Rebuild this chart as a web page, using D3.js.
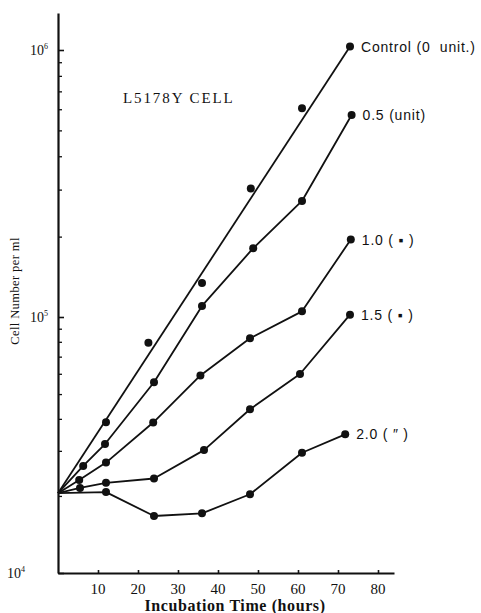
<!DOCTYPE html>
<html>
<head>
<meta charset="utf-8">
<script src="https://cdn.jsdelivr.net/npm/d3@7"></script>
<style>
  body { margin: 0; background: #fff; }
  svg { display: block; }
  .axis path, .axis line { stroke: #111; }
  text { fill: #111; }
</style>
</head>
<body>
<svg id="chart" width="481" height="613"></svg>
<script>
// incubation time (hours) and cell counts per ml
const controlTime = [12, 22.6, 36, 48.2, 61, 73];
const controlCells = [3.88e4, 7.94e4, 1.34e5, 3.03e5, 6.05e5, 1.03e6];
// the control line is a straight fit, not through the dots
const controlFitTime = [0, 73];
const controlFitCells = [2.05e4, 1.03e6];

const series = [
  { label: "0.5 (unit)",
    time:  [0, 6.3, 11.75, 24, 36, 48.8, 61, 73.4],
    cells: [2.05e4, 2.62e4, 3.19e4, 5.56e4, 1.10e5, 1.81e5, 2.72e5, 5.71e5] },
  { label: "1.0 ( \u25aa )",
    time:  [0, 5.3, 12, 23.8, 35.6, 48, 61, 73.2],
    cells: [2.05e4, 2.31e4, 2.70e4, 3.87e4, 5.91e4, 8.26e4, 1.05e5, 1.95e5] },
  { label: "1.5 ( \u25aa )",
    time:  [0, 5.5, 12, 24, 36.5, 48, 60.5, 73],
    cells: [2.05e4, 2.15e4, 2.25e4, 2.34e4, 3.02e4, 4.36e4, 5.99e4, 1.02e5] },
  { label: "2.0 ( \u2033 )",
    time:  [0, 12, 24, 36, 48, 61, 71.8],
    cells: [2.05e4, 2.07e4, 1.67e4, 1.71e4, 2.03e4, 2.95e4, 3.48e4] }
];
const controlLabel = "Control (0  unit.)";

const xTicks = [10, 20, 30, 40, 50, 60, 70, 80];
const yMajor = [1e4, 1e5, 1e6];
const yExp = [4, 5, 6];

const svg = d3.select("#chart");
const serif = "'Liberation Serif', 'DejaVu Serif', serif";

const x = d3.scaleLinear().domain([0, 84]).range([58, 394]);
// the printed decades are not quite the same height
const y = d3.scaleLog().domain([1e4, 1e5, 1e6, 1.376e6]).range([573, 317, 50, 13]);

// y axis: major and log minor ticks pointing inward
const yMinor = [];
for (let p = 4; p <= 6; p++) {
  for (let m = 2; m <= 9; m++) {
    const v = m * Math.pow(10, p);
    if (v < 1.376e6) yMinor.push(v);
  }
}

svg.append("g")
    .attr("class", "axis")
    .attr("transform", "translate(" + x(0) + ",0)")
    .call(d3.axisRight(y).tickValues(yMinor).tickSize(4).tickFormat(""))
    .call(g => g.select(".domain").remove())
    .selectAll("line").attr("stroke-width", 1.3);

svg.append("g")
    .attr("class", "axis")
    .attr("transform", "translate(" + x(0) + ",0)")
    .call(d3.axisRight(y).tickValues(yMajor).tickSize(6).tickSizeOuter(0).tickFormat(""))
    .call(g => g.select(".domain").attr("stroke-width", 2.2))
    .selectAll("line").attr("stroke-width", 1.6);

// y tick labels 10^n
const yLab = svg.append("g").selectAll("text")
    .data(yMajor)
    .enter()
    .append("text")
    .attr("x", (d, i) => i === 0 ? 25 : 48)
    .attr("y", d => y(d) + 5)
    .attr("text-anchor", "end")
    .attr("font-family", serif)
    .attr("font-size", 14);
yLab.append("tspan").text("10");
yLab.append("tspan")
    .attr("font-size", 8)
    .attr("dy", -6)
    .text((d, i) => yExp[i]);

// x axis with ticks pointing up
svg.append("g")
    .attr("class", "axis")
    .attr("transform", "translate(0," + y(1e4) + ")")
    .call(d3.axisTop(x).tickValues(xTicks).tickSize(3).tickSizeOuter(0).tickFormat(""))
    .call(g => g.select(".domain").attr("stroke-width", 2.2))
    .selectAll("line").attr("stroke-width", 1.6);

svg.append("g").selectAll("text")
    .data(xTicks)
    .enter()
    .append("text")
    .attr("x", d => x(d))
    .attr("y", y(1e4) + 21)
    .attr("text-anchor", "middle")
    .attr("font-family", serif)
    .attr("font-size", 15)
    .text(d => d);

// axis titles
svg.append("text")
    .attr("x", 235)
    .attr("y", 611)
    .attr("text-anchor", "middle")
    .attr("font-family", serif)
    .attr("font-weight", "bold")
    .attr("font-size", 16)
    .attr("letter-spacing", 0.6)
    .text("Incubation Time (hours)");

svg.append("text")
    .attr("transform", "translate(19,291) rotate(-90)")
    .attr("text-anchor", "middle")
    .attr("font-family", serif)
    .attr("font-size", 12.5)
    .attr("letter-spacing", 0.4)
    .text("Cell Number per ml");

svg.append("text")
    .attr("x", 123)
    .attr("y", 103)
    .attr("font-family", serif)
    .attr("font-size", 15)
    .attr("letter-spacing", 1.9)
    .text("L5178Y CELL");

// lines
const line = d3.line()
    .x(d => x(d[0]))
    .y(d => y(d[1]));

svg.append("path")
    .datum(d3.zip(controlFitTime, controlFitCells))
    .attr("fill", "none")
    .attr("stroke", "#111")
    .attr("stroke-width", 1.8)
    .attr("d", line);

svg.selectAll(".series")
    .data(series)
    .enter()
    .append("path")
    .attr("fill", "none")
    .attr("stroke", "#111")
    .attr("stroke-width", 1.8)
    .attr("stroke-linejoin", "round")
    .attr("d", s => line(d3.zip(s.time, s.cells)));

// dots
const dots = [{ time: controlTime, cells: controlCells }].concat(series);
dots.forEach(s => {
  svg.append("g").selectAll("circle")
      .data(d3.zip(s.time, s.cells).filter(d => d[0] > 0))
      .enter()
      .append("circle")
      .attr("cx", d => x(d[0]))
      .attr("cy", d => y(d[1]))
      .attr("r", 4)
      .attr("fill", "#111");
});

// end labels
const endLabels = [{ label: controlLabel, time: controlTime, cells: controlCells }].concat(series);
svg.append("g").selectAll("text")
    .data(endLabels)
    .enter()
    .append("text")
    .attr("x", s => x(s.time[s.time.length - 1]) + 11)
    .attr("y", s => y(s.cells[s.cells.length - 1]) + 5)
    .attr("font-family", "'Liberation Sans', Arial, sans-serif")
    .attr("font-size", 14)
    .attr("letter-spacing", 0.8)
    .style("white-space", "pre")
    .text(s => s.label);
</script>
</body>
</html>
